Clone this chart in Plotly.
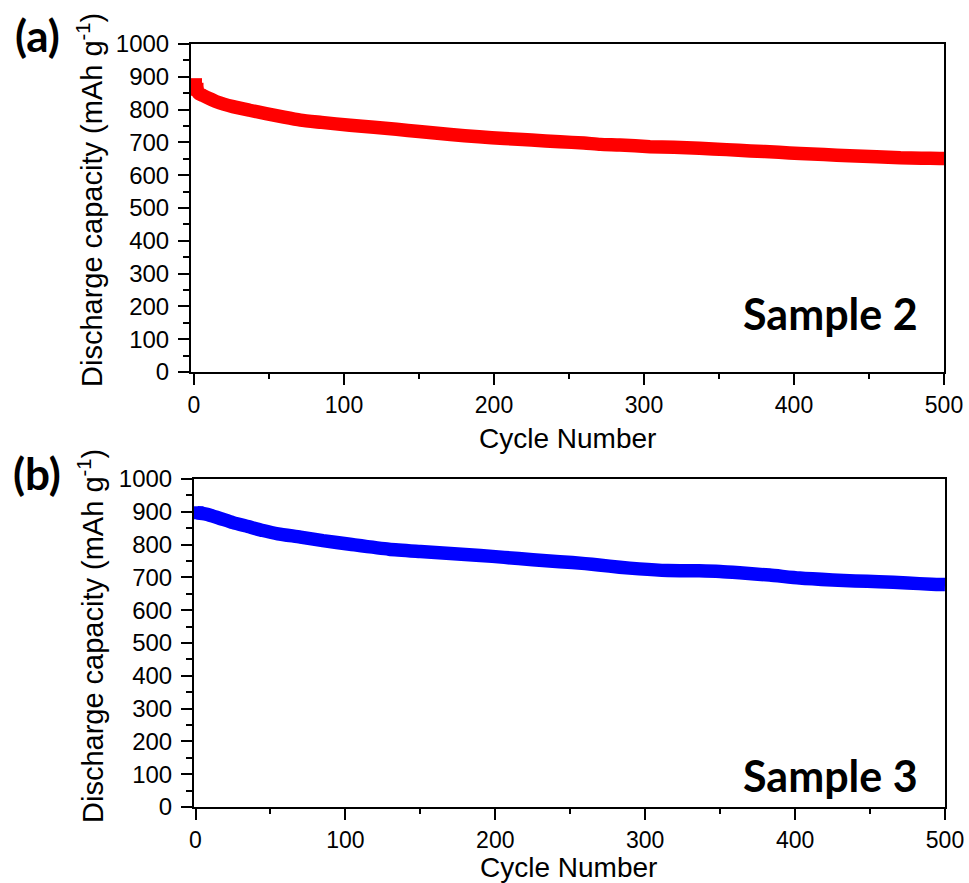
import plotly.graph_objects as go

# ---------------- data ----------------
cycles_s2 = [1, 2, 3, 6, 10, 15, 26, 37, 48, 60, 71, 85, 104, 120, 135, 150, 171, 190,
             207, 225, 244, 260, 271, 284, 304, 320, 337, 355, 371, 390, 404, 420, 437,
             455, 471, 485, 497, 500]
cap_s2 = [876, 862, 850, 843, 834, 824, 809, 798, 788, 777, 768, 761, 752, 746, 740, 733,
          724, 717, 712, 707, 702, 698, 694, 692, 687, 685, 682, 678, 674, 670, 666, 663,
          659, 656, 653, 652, 651, 651]

cycles_s3 = [1, 7, 15, 25, 35, 45, 55, 70, 85, 103, 129, 150, 170, 190, 206, 225, 243,
             260, 269, 283, 296, 315, 336, 350, 363, 383, 403, 425, 440, 456, 475, 491, 500]
cap_s3 = [897, 893, 882, 867, 855, 843, 833, 823, 812, 801, 786, 779, 773, 767, 761, 754,
          748, 742, 738, 731, 726, 721, 720, 718, 714, 707, 698, 692, 689, 687, 683, 679, 678]

x_ticks = [0, 100, 200, 300, 400, 500]
y_ticks = [0, 100, 200, 300, 400, 500, 600, 700, 800, 900, 1000]

W, H = 969, 883


def px(x):
    return x / W


def py(y):
    return 1 - y / H


fig = go.Figure()
# thick lines for the dense data
fig.add_trace(go.Scatter(x=cycles_s2, y=cap_s2, mode="lines",
                         line=dict(color="#FF0000", width=13.5, shape="spline", smoothing=0.6),
                         xaxis="x", yaxis="y", showlegend=False, hoverinfo="x+y"))
fig.add_trace(go.Scatter(x=cycles_s3, y=cap_s3, mode="lines",
                         line=dict(color="#0000FF", width=13.5, shape="spline", smoothing=0.6),
                         xaxis="x2", yaxis="y2", showlegend=False, hoverinfo="x+y"))
# square symbols for the first cycles (visible block at the start)
fig.add_trace(go.Scatter(x=cycles_s2[:2], y=cap_s2[:2], mode="markers",
                         marker=dict(symbol="square", size=13, color="#FF0000", opacity=1,
                                     line=dict(width=0)),
                         xaxis="x", yaxis="y", showlegend=False, hoverinfo="skip"))
fig.add_trace(go.Scatter(x=cycles_s3[:1], y=cap_s3[:1], mode="markers",
                         marker=dict(symbol="square", size=13, color="#0000FF", opacity=1,
                                     line=dict(width=0)),
                         xaxis="x2", yaxis="y2", showlegend=False, hoverinfo="skip"))

tickfont_x = dict(family="Liberation Sans, Arial, sans-serif", size=23, color="black")
tickfont_y = dict(family="Liberation Sans, Arial, sans-serif", size=24, color="black")


def xaxis_cfg(domain, rng, anchor):
    return dict(domain=domain, range=rng, anchor=anchor, showline=True, linecolor="black",
                linewidth=2, mirror=True, ticks="outside", ticklen=11, tickwidth=2,
                tickcolor="black", tickmode="array", tickvals=x_ticks,
                ticktext=[str(v) for v in x_ticks],
                minor=dict(ticks="outside", ticklen=5, tickwidth=2, tickcolor="black",
                           dtick=50, tick0=0, showgrid=False),
                showgrid=False, zeroline=False, tickfont=tickfont_x)


def yaxis_cfg(domain, anchor):
    return dict(domain=domain, range=[0, 1000], anchor=anchor, showline=True,
                linecolor="black", linewidth=2, mirror=True, ticks="outside", ticklen=11,
                tickwidth=2, tickcolor="black", tickmode="array", tickvals=y_ticks,
                ticktext=[str(v) for v in y_ticks], ticklabelstandoff=4,
                minor=dict(ticks="outside", ticklen=6, tickwidth=2, tickcolor="black",
                           dtick=50, tick0=0, showgrid=False),
                showgrid=False, zeroline=False, tickfont=tickfont_y)


fig.update_layout(
    width=W, height=H, margin=dict(l=0, r=0, t=0, b=0, pad=0, autoexpand=False),
    paper_bgcolor="white", plot_bgcolor="white",
    xaxis=xaxis_cfg([px(191), px(944)], [-2, 500], "y"),
    yaxis=yaxis_cfg([py(372), py(44)], "x"),
    xaxis2=xaxis_cfg([px(194), px(945)], [-1, 500], "y2"),
    yaxis2=yaxis_cfg([py(807), py(479)], "x2"),
)

ann_font_title = dict(family="Liberation Sans, Arial, sans-serif", size=28, color="black")
ann_font_ytitle = dict(family="Liberation Sans, Arial, sans-serif", size=29, color="black")
ann_font_bold = dict(family="Lato, Noto Sans, sans-serif", size=43, color="black")
ann_font_panel = dict(family="Lato, Noto Sans, sans-serif", size=44, color="black")

annotations = [
    dict(text="Cycle Number", x=px(567), y=py(438), font=ann_font_title),
    dict(text="Cycle Number", x=px(568), y=py(867), font=ann_font_title),
    dict(text="Discharge capacity (mAh g<sup>-1</sup>)", x=px(90), y=py(200),
         textangle=-90, font=ann_font_ytitle),
    dict(text="Discharge capacity (mAh g<sup>-1</sup>)", x=px(91), y=py(636),
         textangle=-90, font=ann_font_ytitle),
    dict(text="<b>Sample 2</b>", x=px(920), y=py(313), xanchor="right", font=ann_font_bold),
    dict(text="<b>Sample 3</b>", x=px(920), y=py(775), xanchor="right", font=ann_font_bold),
    dict(text="<b>(a)</b>", x=px(37), y=py(35), font=ann_font_panel),
    dict(text="<b>(b)</b>", x=px(37), y=py(473), font=ann_font_panel),
]
for a in annotations:
    a.update(xref="paper", yref="paper", showarrow=False)
    a.setdefault("xanchor", "center")
    a.setdefault("yanchor", "middle")
fig.update_layout(annotations=annotations)

fig.write_html("out.html", config={"displayModeBar": False},
               post_script="document.body.style.margin='0';")
